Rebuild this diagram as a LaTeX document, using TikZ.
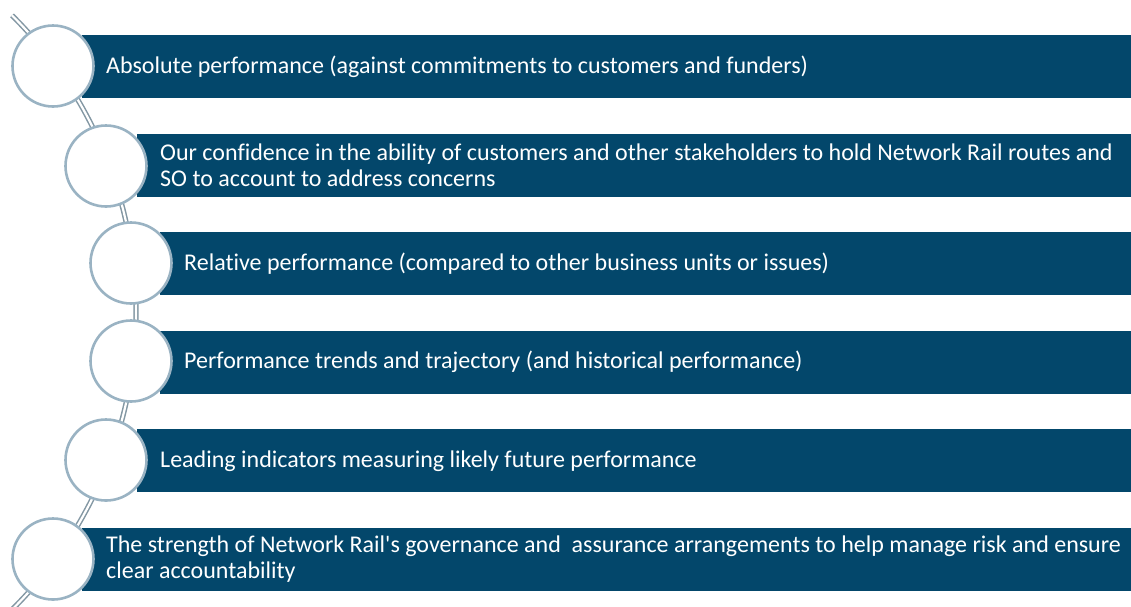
\documentclass[tikz,border=0pt]{standalone}
\usepackage{fontspec}
\setmainfont{Carlito}[Ligatures={NoCommon,TeXOff}]
\definecolor{barblue}{HTML}{03476B}
\definecolor{ringblue}{HTML}{9AB3C3}
\definecolor{spine}{HTML}{8397A3}
\begin{document}
\begin{tikzpicture}[x=1pt,y=-1pt,
  bar/.style={fill=barblue,draw=none,minimum height=63pt,inner sep=0pt,anchor=west},
  ring/.style={circle,fill=white,draw=ringblue,line width=2.6pt,minimum size=81pt,inner sep=0pt},
  label/.style={anchor=west,align=left,text=white,inner sep=0pt,
     font=\fontsize{24}{25.5}\selectfont},
  spineline/.style={draw=spine,double=white,double distance=2.2pt,line width=1.5pt}]
\useasboundingbox (0,0) rectangle (1131,606);
% spine arc
\coordinate (ctr) at (-282,312.5);
\draw[spineline] (ctr) ++(-45.3:418) arc[start angle=-45.3, end angle=45.3, radius=418];
% bars
\node[bar,minimum width=1049pt] (b1) at (82,66.5) {};
\node[bar,minimum width=994pt] (b2) at (137,165.5) {};
\node[bar,minimum width=971pt] (b3) at (160,263.5) {};
\node[bar,minimum width=971pt] (b4) at (160,362) {};
\node[bar,minimum width=994pt] (b5) at (137,460.5) {};
\node[bar,minimum width=1049pt] (b6) at (82,559.5) {};
% rings
\node[ring] (c1) at (53,66) {};
\node[ring] (c2) at (106,166) {};
\node[ring] (c3) at (131,263) {};
\node[ring] (c4) at (131,361) {};
\node[ring] (c5) at (106,460) {};
\node[ring] (c6) at (53,559) {};
% labels
\node[label] (t1) at (106,67) {Absolute performance (against commitments to customers and funders)};
\node[label] (t2) at (160,165) {Our confidence in the ability of customers and other stakeholders to hold Network Rail routes and\\SO to account to address concerns};
\node[label] (t3) at (184,264) {Relative performance (compared to other business units or issues)};
\node[label] (t4) at (184,362) {Performance trends and trajectory (and historical performance)};
\node[label] (t5) at (160,461) {Leading indicators measuring likely future performance};
\node[label] (t6) at (106,559) {The strength of Network Rail's governance and\ \ assurance arrangements to help manage risk and ensure\\clear accountability};
\end{tikzpicture}
\end{document}
